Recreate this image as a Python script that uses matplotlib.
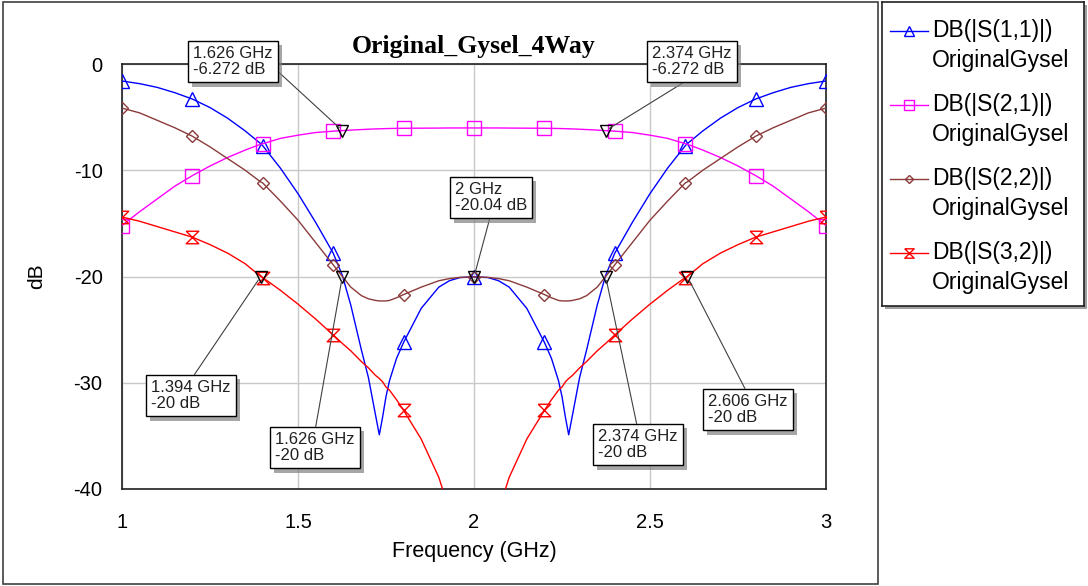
import matplotlib
matplotlib.use('Agg')
import matplotlib.pyplot as plt
import matplotlib.patheffects as pe
from matplotlib.patches import Rectangle

# frequency points (GHz)
freq = [1.0, 1.05, 1.1, 1.15, 1.2, 1.25, 1.3, 1.35, 1.394, 1.4, 1.45, 1.5, 1.55, 1.6, 1.626,
        1.65, 1.68, 1.7, 1.72, 1.731, 1.74, 1.75, 1.76, 1.78, 1.8, 1.85, 1.9, 1.93, 1.96, 2.0,
        2.04, 2.07, 2.1, 2.15, 2.2, 2.22, 2.24, 2.25, 2.26, 2.269, 2.28, 2.3, 2.32, 2.35, 2.374,
        2.4, 2.45, 2.5, 2.55, 2.6, 2.606, 2.65, 2.7, 2.75, 2.8, 2.85, 2.9, 2.95, 3.0]

s11 = [-1.6, -1.85, -2.2, -2.7, -3.3, -4.1, -5.1, -6.3, -7.5, -7.7, -9.8, -12.2, -14.9, -17.8, -19.9,
       -22.7, -26.9, -29.5, -33.0, -34.9, -33.3, -31.3, -29.8, -27.7, -26.2, -23.0, -21.0, -20.4, -20.1, -20.04,
       -20.1, -20.4, -21.0, -23.0, -26.2, -27.7, -29.8, -31.3, -33.3, -34.9, -33.0, -29.5, -26.9, -22.7, -19.9,
       -17.8, -14.9, -12.2, -9.8, -7.7, -7.5, -6.3, -5.1, -4.1, -3.3, -2.7, -2.2, -1.85, -1.6]

s21 = [-15.2, -13.9, -12.7, -11.5, -10.5, -9.6, -8.8, -8.1, -7.55, -7.5, -7.0, -6.7, -6.45, -6.32, -6.272,
       -6.22, -6.17, -6.14, -6.11, -6.10, -6.09, -6.08, -6.07, -6.06, -6.05, -6.04, -6.03, -6.02, -6.02, -6.02,
       -6.02, -6.02, -6.03, -6.04, -6.05, -6.06, -6.07, -6.08, -6.09, -6.10, -6.11, -6.14, -6.17, -6.22, -6.272,
       -6.32, -6.45, -6.7, -7.0, -7.5, -7.55, -8.1, -8.8, -9.6, -10.5, -11.5, -12.7, -13.9, -15.2]

s22 = [-4.15, -4.6, -5.3, -6.0, -6.8, -7.8, -8.9, -10.0, -11.1, -11.2, -12.9, -14.7, -16.8, -18.9, -20.0,
       -21.0, -21.8, -22.1, -22.25, -22.3, -22.3, -22.3, -22.25, -22.0, -21.7, -21.0, -20.4, -20.2, -20.08, -20.04,
       -20.08, -20.2, -20.4, -21.0, -21.7, -22.0, -22.25, -22.3, -22.3, -22.3, -22.25, -22.1, -21.8, -21.0, -20.0,
       -18.9, -16.8, -14.7, -12.9, -11.2, -11.1, -10.0, -8.9, -7.8, -6.8, -6.0, -5.3, -4.6, -4.15]

s32 = [-14.4, -14.8, -15.3, -15.8, -16.3, -17.0, -17.8, -18.8, -20.0, -20.1, -21.3, -22.6, -24.0, -25.5, -26.3,
       -27.0, -28.0, -28.6, -29.3, -29.6, -29.9, -30.4, -30.7, -31.6, -32.6, -35.3, -38.9, -42.0, -48.0, -70.0,
       -48.0, -42.0, -38.9, -35.3, -32.6, -31.6, -30.7, -30.4, -29.9, -29.6, -29.3, -28.6, -28.0, -27.0, -26.3,
       -25.5, -24.0, -22.6, -21.3, -20.1, -20.0, -18.8, -17.8, -17.0, -16.3, -15.8, -15.3, -14.8, -14.4]

marker_freq = [1.0, 1.2, 1.4, 1.6, 1.8, 2.0, 2.2, 2.4, 2.6, 2.8, 3.0]

# marker readouts
mark_f = [1.626, 2.374, 2.0, 1.394, 1.626, 2.374, 2.606]
mark_db = [-6.272, -6.272, -20.04, -20.0, -20.0, -20.0, -20.0]
mark_text = ['1.626 GHz\n-6.272 dB', '2.374 GHz\n-6.272 dB', '2 GHz\n-20.04 dB',
             '1.394 GHz\n-20 dB', '1.626 GHz\n-20 dB', '2.374 GHz\n-20 dB', '2.606 GHz\n-20 dB']
# box top-left corner (figure px from top-left) and where the leader leaves the text
box_pos = [(188, 42), (647, 42), (450, 178), (146, 376), (270, 428), (593, 425), (703, 390)]
lead_rel = [(1.0, 0.35), (0.5, 0.0), (0.5, 0.0), (0.5, 1.0), (0.5, 1.0), (0.5, 1.0), (0.5, 1.0)]

names = ['DB(|S(1,1)|)', 'DB(|S(2,1)|)', 'DB(|S(2,2)|)', 'DB(|S(3,2)|)']
colors = ['#0000ff', '#ff00ff', '#8b3a3a', '#ff0000']
hourglass = [(-1, 1), (1, 1), (-1, -1), (1, -1), (-1, 1)]
markers = ['^', 's', 'D', hourglass]
msizes = [10, 10, 6, 9]

W, H = 1088, 586
sans = 'Liberation Sans'
fig = plt.figure(figsize=(W / 100, H / 100), dpi=100)
ax = fig.add_axes([122 / W, 1 - 489 / H, 704 / W, 425 / H])

idx = [freq.index(m) for m in marker_freq]
for vals, col, mk, ms in zip([s11, s21, s22, s32], colors, markers, msizes):
    ax.plot(freq, vals, color=col, lw=1, marker=mk, ms=ms, mfc='none', mec=col, mew=1,
            markevery=idx, zorder=3)

ax.plot(mark_f, mark_db, 'v', ms=9, mfc='none', mec='black', mew=1, zorder=4)

ax.set_xlim(1, 3)
ax.set_ylim(-40, 0)
ax.set_xticks([1, 1.5, 2, 2.5, 3])
ax.set_xticklabels(['1', '1.5', '2', '2.5', '3'])
ax.set_yticks([0, -10, -20, -30, -40])
ax.set_yticklabels(['0', '-10', '-20', '-30', '-40'])
ax.tick_params(length=0, labelsize=14.5)
ax.tick_params(axis='x', pad=17)
ax.tick_params(axis='y', pad=14)
for lab in ax.get_xticklabels() + ax.get_yticklabels():
    lab.set_family(sans)
ax.grid(True, color='#c8c8c8', lw=1)
ax.set_axisbelow(True)
for sp in ax.spines.values():
    sp.set_linewidth(1.2)
    sp.set_color('#202020')

ax.set_xlabel('Frequency (GHz)', fontsize=15.5, family=sans, labelpad=7)
ax.set_ylabel('dB', fontsize=15, family=sans, labelpad=20)
ax.set_title('Original_Gysel_4Way', fontsize=18.5, fontweight='bold', family='Liberation Serif', pad=8)

for f, d, txt, (bx, by), rel in zip(mark_f, mark_db, mark_text, box_pos, lead_rel):
    ann = ax.annotate(txt, xy=(f, d), xycoords='data', xytext=(bx + 5, H - by - 4),
                      textcoords='figure pixels', ha='left', va='top', fontsize=12,
                      family=sans, color='#202020', linespacing=1.12, annotation_clip=False,
                      bbox=dict(boxstyle='square,pad=0.3', fc='white', ec='black', lw=1),
                      arrowprops=dict(arrowstyle='-', color='#404040', lw=0.8, relpos=rel,
                                      shrinkA=0, shrinkB=3), zorder=6)
    ann.get_bbox_patch().set_path_effects([
        pe.SimplePatchShadow(offset=(3, -3), shadow_rgbFace='#808080', alpha=0.7), pe.Normal()])

# outer frame of the graph
fig.add_artist(Rectangle((3 / W, 2 / H), 875 / W, 582 / H, transform=fig.transFigure,
                         fill=False, ec='#404040', lw=1.2))

# legend panel with its shadow
shadow = Rectangle((885 / W, (H - 309) / H), 202 / W, 304 / H, transform=fig.transFigure,
                   fc='#a0a0a0', ec='none', zorder=-5)
fig.add_artist(shadow)
lax = fig.add_axes([882 / W, (H - 306) / H, 202 / W, 304 / H])
lax.set_zorder(2)
lax.set_xlim(0, 202)
lax.set_ylim(304, 0)
lax.set_xticks([])
lax.set_yticks([])
for sp in lax.spines.values():
    sp.set_linewidth(1.2)
    sp.set_color('#202020')
for i, (name, col, mk, ms) in enumerate(zip(names, colors, markers, msizes)):
    y0 = 29 + i * 74
    lax.plot([8, 46], [y0, y0], color=col, lw=1)
    lax.plot([27], [y0], marker=mk, ms=ms * 0.75, mfc='none', mec=col, mew=1)
    lax.text(50, y0, name, fontsize=16.5, family=sans, va='center', ha='left')
    lax.text(50, y0 + 29, 'OriginalGysel', fontsize=16.5, family=sans, va='center', ha='left')

fig.savefig('out.png', dpi=100)
